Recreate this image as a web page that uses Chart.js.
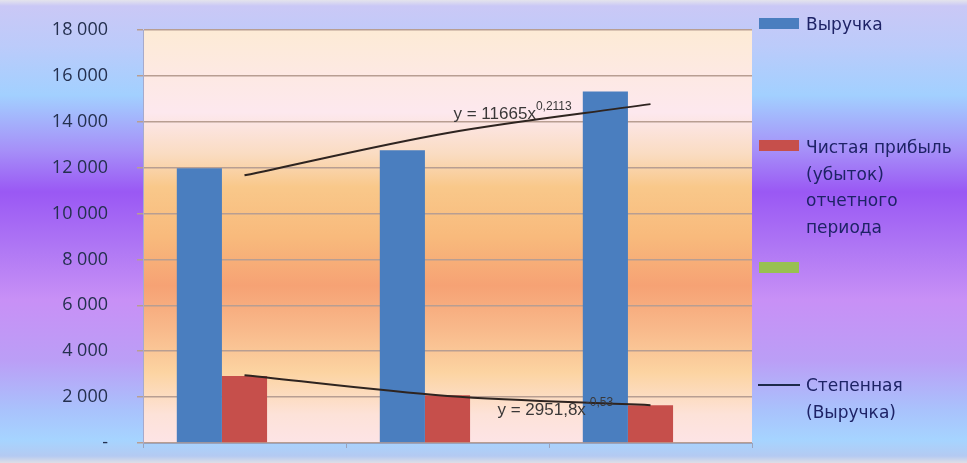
<!DOCTYPE html>
<html><head><meta charset="utf-8">
<script src="https://cdn.jsdelivr.net/npm/chart.js@4/dist/chart.umd.min.js"></script>
<style>
html,body{margin:0;padding:0;}
#wrap{position:relative;width:967px;height:463px;overflow:hidden;
background:linear-gradient(to bottom,#e4e4ec 0px,#cac8f6 6px,#bccbfa 45px,#a2d0ff 95px,#a690f8 150px,#9a58f4 192px,#b078f4 250px,#c890f6 300px,#bb9ef6 360px,#a9c2fc 410px,#a6d4ff 440px,#b4caf2 456px,#dedee6 463px);}
canvas{position:absolute;left:0;top:0;}
.lg{position:absolute;font-family:"DejaVu Sans";font-size:17px;color:#1e2366;line-height:26.5px;white-space:nowrap;}
.box{position:absolute;width:40px;height:11px;}
</style></head>
<body>
<div id="wrap">
<canvas id="c" width="967" height="463"></canvas>
<div class="box" style="left:759px;top:18px;background:#4a7ebf"></div>
<div class="lg" style="left:806px;top:11px;">Выручка</div>
<div class="box" style="left:759px;top:140px;background:#c64f4b"></div>
<div class="lg" style="left:806px;top:134px;">Чистая прибыль<br>(убыток)<br>отчетного<br>периода</div>
<div class="box" style="left:759px;top:262px;background:#98c050"></div>
<div style="position:absolute;left:758px;top:384px;width:42px;height:2px;background:#1e2a4a"></div>
<div class="lg" style="left:806px;top:372px;">Степенная<br>(Выручка)</div>
</div>
<script>
const categories = ['', '', ''];
const revenue = [11980, 12760, 15320];
const netProfit = [2920, 2080, 1650];
const emptySeries = [null, null, null];
const revenueTrend = [11665, 13514, 14769];
const profitTrend = [2952, 2050, 1650];
const yMin = 0, yMax = 18000, yStep = 2000;
const revenueLabel = 'Выручка';
const profitLabel = 'Чистая прибыль (убыток) отчетного периода';
const trendLabel = 'Степенная (Выручка)';
const revenueEq = ['y = 11665x', '0,2113'];
const profitEq = ['y = 2951,8x', '-0,53'];

const plotBg = {
  id: 'plotBg',
  beforeDraw(chart) {
    const {ctx, chartArea: a} = chart;
    const g = ctx.createLinearGradient(0, a.top, 0, a.bottom);
    g.addColorStop(0, '#fdebd5');
    g.addColorStop(0.1, '#fde9e2');
    g.addColorStop(0.2, '#fde8ee');
    g.addColorStop(0.3, '#fadcc2');
    g.addColorStop(0.38, '#f9c88a');
    g.addColorStop(0.5, '#f8ba7c');
    g.addColorStop(0.62, '#f6a274');
    g.addColorStop(0.72, '#f8b88a');
    g.addColorStop(0.83, '#fcd4a2');
    g.addColorStop(0.93, '#fde2d8');
    g.addColorStop(1, '#fde4e6');
    ctx.save();
    ctx.fillStyle = g;
    ctx.fillRect(a.left, a.top, a.right - a.left, a.bottom - a.top);
    ctx.restore();
  }
};

const eqLabels = {
  id: 'eqLabels',
  afterDatasetsDraw(chart) {
    const {ctx, scales: {x, y}} = chart;
    function draw(eq, px, val) {
      const py = y.getPixelForValue(val);
      ctx.save();
      ctx.fillStyle = '#3a3838';
      ctx.textBaseline = 'alphabetic';
      ctx.font = '17px "Liberation Sans"';
      ctx.fillText(eq[0], px, py);
      const w = ctx.measureText(eq[0]).width;
      ctx.font = '12px "Liberation Sans"';
      ctx.fillText(eq[1], px + w, py - 9);
      ctx.restore();
    }
    draw(revenueEq, x.getPixelForValue(1) + 6, 14130);
    draw(profitEq, x.getPixelForValue(1) + 50, 1230);
  }
};

const fmt = v => v === 0 ? '-' : String(v).replace(/\B(?=(\d{3})+(?!\d))/g, ' ');

new Chart(document.getElementById('c'), {
  type: 'bar',
  data: {
    labels: categories,
    datasets: [
      {label: revenueLabel, data: revenue, backgroundColor: '#4a7ebf', order: 2},
      {label: profitLabel, data: netProfit, backgroundColor: '#c64f4b', order: 2},
      {label: '', data: emptySeries, backgroundColor: '#98c050', order: 2},
      {type: 'line', label: trendLabel, data: revenueTrend, borderColor: '#2e2420', borderWidth: 2,
       pointRadius: 0, cubicInterpolationMode: 'monotone', order: 0},
      {type: 'line', label: '', data: profitTrend, borderColor: '#2e2420', borderWidth: 2,
       pointRadius: 0, cubicInterpolationMode: 'monotone', order: 0}
    ]
  },
  options: {
    responsive: false,
    animation: false,
    layout: {padding: {top: 30, right: 215, left: 0, bottom: 0}},
    datasets: {bar: {categoryPercentage: 0.667, barPercentage: 1}},
    plugins: {legend: {display: false}, tooltip: {enabled: false}},
    scales: {
      x: {
        offset: true,
        grid: {offset: true, drawOnChartArea: false, drawTicks: true, tickLength: 5, color: '#9aa2bc'},
        border: {color: '#9aa2bc', width: 1},
        ticks: {display: false},
        afterFit: s => { s.height = 20; s.paddingLeft = 0; s.paddingRight = 0; }
      },
      y: {
        min: yMin, max: yMax,
        grid: {color: '#b89e92', lineWidth: 1.5, tickLength: 6, drawTicks: true},
        border: {color: '#a6aacc', width: 1},
        ticks: {stepSize: yStep, padding: 29, color: '#24304f',
          font: {family: '"Open Sans"', size: 18}, callback: v => fmt(v)},
        afterFit: s => { s.width = 143; s.paddingTop = 0; s.paddingBottom = 0; }
      }
    }
  },
  plugins: [plotBg, eqLabels]
});
</script>
</body></html>
